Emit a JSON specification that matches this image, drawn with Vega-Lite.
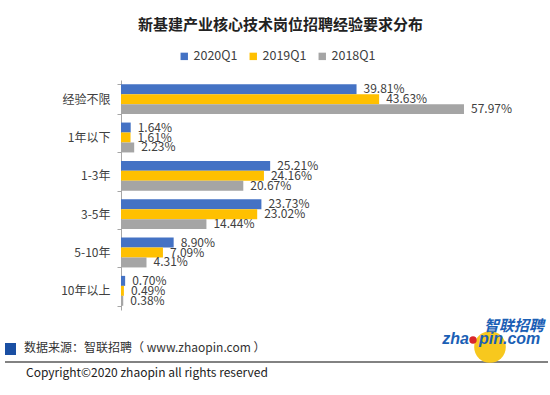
{
  "$schema": "https://vega.github.io/schema/vega-lite/v6.json",
  "autosize": {"type": "none"},
  "width": 355,
  "height": 230,
  "padding": {"left": 121, "top": 80, "right": 74, "bottom": 85},
  "background": "#ffffff",
  "config": {
    "view": {"stroke": null},
    "font": "Noto Sans CJK SC"
  },
  "title": {
    "text": "新基建产业核心技术岗位招聘经验要求分布",
    "font": "Noto Sans CJK SC",
    "fontSize": 15,
    "fontWeight": "bold",
    "color": "#222222",
    "anchor": "middle",
    "dx": -18,
    "offset": 17
  },
  "datasets": {
    "bars": [
      {"cat": "经验不限", "s": "2020Q1", "v": 0.3981},
      {"cat": "经验不限", "s": "2019Q1", "v": 0.4363},
      {"cat": "经验不限", "s": "2018Q1", "v": 0.5797},
      {"cat": "1年以下", "s": "2020Q1", "v": 0.0164},
      {"cat": "1年以下", "s": "2019Q1", "v": 0.0161},
      {"cat": "1年以下", "s": "2018Q1", "v": 0.0223},
      {"cat": "1-3年", "s": "2020Q1", "v": 0.2521},
      {"cat": "1-3年", "s": "2019Q1", "v": 0.2416},
      {"cat": "1-3年", "s": "2018Q1", "v": 0.2067},
      {"cat": "3-5年", "s": "2020Q1", "v": 0.2373},
      {"cat": "3-5年", "s": "2019Q1", "v": 0.2302},
      {"cat": "3-5年", "s": "2018Q1", "v": 0.1444},
      {"cat": "5-10年", "s": "2020Q1", "v": 0.089},
      {"cat": "5-10年", "s": "2019Q1", "v": 0.0709},
      {"cat": "5-10年", "s": "2018Q1", "v": 0.0431},
      {"cat": "10年以上", "s": "2020Q1", "v": 0.007},
      {"cat": "10年以上", "s": "2019Q1", "v": 0.0049},
      {"cat": "10年以上", "s": "2018Q1", "v": 0.0038}
    ]
  },
  "layer": [
    {
      "data": {"name": "bars"},
      "mark": {"type": "bar"},
      "encoding": {
        "y": {
          "field": "cat", "type": "nominal",
          "sort": ["经验不限", "1年以下", "1-3年", "3-5年", "5-10年", "10年以上"],
          "scale": {"paddingInner": 0.22, "paddingOuter": 0.11},
          "axis": {
            "title": null,
            "tickBand": "extent",
            "tickSize": 4,
            "tickColor": "#a6a6a6",
            "domainColor": "#a6a6a6",
            "labelPadding": 7,
            "labelFontSize": 12,
            "labelColor": "#404040",
            "labelFont": "Noto Sans CJK SC"
          }
        },
        "yOffset": {"field": "s", "type": "nominal", "sort": ["2020Q1", "2019Q1", "2018Q1"]},
        "x": {"field": "v", "type": "quantitative", "scale": {"domain": [0, 0.6]}, "axis": null},
        "color": {
          "field": "s", "type": "nominal",
          "scale": {"domain": ["2020Q1", "2019Q1", "2018Q1"], "range": ["#4472C4", "#FFC000", "#A5A5A5"]},
          "legend": {
            "title": null,
            "orient": "none",
            "direction": "horizontal",
            "legendX": 57,
            "legendY": -30,
            "symbolType": "square",
            "symbolSize": 55,
            "symbolStrokeWidth": 0,
            "labelFontSize": 12.5,
            "labelColor": "#404040",
            "labelOffset": 3,
            "columnPadding": 9
          }
        }
      }
    },
    {
      "data": {"name": "bars"},
      "mark": {"type": "text", "align": "left", "baseline": "middle", "dx": 7, "fontSize": 12, "color": "#404040"},
      "encoding": {
        "y": {"field": "cat", "type": "nominal", "sort": ["经验不限", "1年以下", "1-3年", "3-5年", "5-10年", "10年以上"]},
        "yOffset": {"field": "s", "type": "nominal", "sort": ["2020Q1", "2019Q1", "2018Q1"]},
        "x": {"field": "v", "type": "quantitative"},
        "text": {"field": "v", "type": "quantitative", "format": ".2%"}
      }
    },
    {
      "data": {"values": [{}]},
      "mark": {"type": "rect", "x": -116, "x2": -105, "y": 263, "y2": 275, "color": "#1a4fa3"},
      "encoding": {}
    },
    {
      "data": {"values": [{}]},
      "mark": {"type": "text", "x": -97, "y": 268, "align": "left", "baseline": "middle", "fontSize": 12, "color": "#333333", "text": "数据来源：智联招聘（ www.zhaopin.com ）"},
      "encoding": {}
    },
    {
      "data": {"values": [{}]},
      "mark": {"type": "rect", "x": -116, "x2": 427, "y": 281.2, "y2": 282.8, "color": "#595959"},
      "encoding": {}
    },
    {
      "data": {"values": [{}]},
      "mark": {"type": "text", "x": -95, "y": 293, "align": "left", "baseline": "middle", "fontSize": 12, "color": "#222222", "text": "Copyright©2020 zhaopin all rights reserved"},
      "encoding": {}
    },
    {
      "data": {"values": [{}]},
      "mark": {"type": "point", "filled": true, "shape": "circle", "x": 369, "y": 267, "size": 1000, "color": "#f7c81e", "opacity": 1},
      "encoding": {}
    },
    {
      "data": {"values": [{}]},
      "mark": {"type": "point", "filled": true, "shape": "circle", "x": 352, "y": 260, "size": 55, "color": "#d9262c", "opacity": 1},
      "encoding": {}
    },
    {
      "data": {"values": [{}]},
      "mark": {"type": "text", "x": 348, "y": 264, "align": "right", "baseline": "alphabetic", "fontSize": 16, "fontWeight": "bold", "fontStyle": "italic", "font": "Liberation Sans", "color": "#1b5fb5", "text": "zha"},
      "encoding": {}
    },
    {
      "data": {"values": [{}]},
      "mark": {"type": "text", "x": 358, "y": 264, "align": "left", "baseline": "alphabetic", "fontSize": 16, "fontWeight": "bold", "fontStyle": "italic", "font": "Liberation Sans", "color": "#1b5fb5", "text": "pin.com"},
      "encoding": {}
    },
    {
      "data": {"values": [{}]},
      "mark": {"type": "text", "x": 363, "y": 251, "align": "left", "baseline": "alphabetic", "fontSize": 15, "fontWeight": "bold", "fontStyle": "italic", "color": "#1b5fb5", "text": "智联招聘"},
      "encoding": {}
    }
  ]
}
